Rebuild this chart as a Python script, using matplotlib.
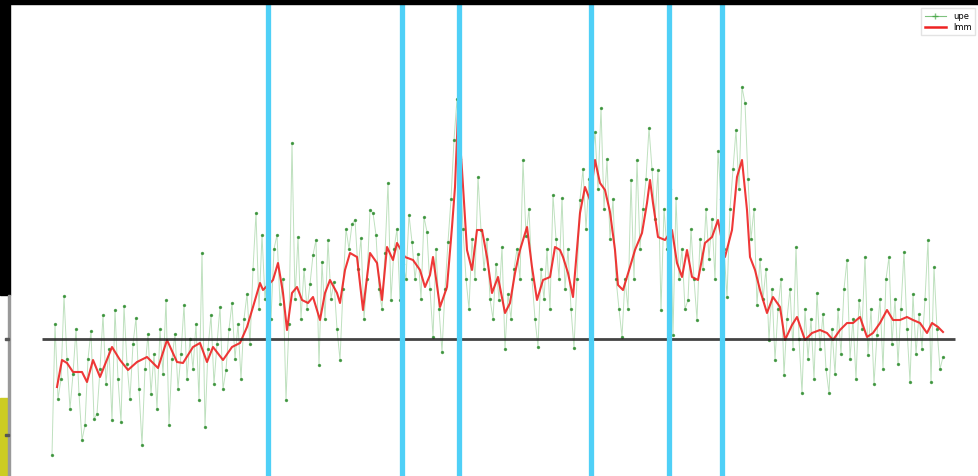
import numpy as np
import matplotlib
matplotlib.use("Agg")
import matplotlib.pyplot as plt
from matplotlib.patches import Rectangle

# raw series (sample step 3), values relative to the baseline
raw_step = 3
raw_vals = [
    -116, 15, -60, -40, 43, -20, -70, -35, 10, -55,
    -101, -86, -20, 8, -80, -75, -30, 24, -45, -10,
    -81, 29, -40, -83, 33, -25, -60, -5, 21, -50,
    -106, -30, 5, -55, -15, -70, 10, -35, 39, -86,
    -20, 5, -50, -15, 34, -40, 0, -30, 15, -61,
    86, -88, -10, 24, -45, -5, 32, -50, -31, 10,
    36, -20, 15, -40, 20, 45, -5, 70, 126, 30,
    104, 40, 75, 20, 90, 104, 35, 60, -61, 15,
    196, 40, 102, 20, 70, 30, 55, 84, 99, -26,
    77, 20, 99, 40, 57, 10, -21, 50, 110, 90,
    115, 119, 70, 101, 20, 60, 129, 126, 104, 50,
    30, 86, 156, 39, 90, 110, 39, 75, 60, 124,
    97, 60, 85, 40, 122, 107, 50, 2, 90, 30,
    -13, 50, 97, 140, 199, 240, 180, 110, 60, 30,
    100, 60, 162, 109, 70, 100, 40, 20, 75, 39,
    92, -10, 45, 20, 70, 90, 60, 179, 103, 130,
    60, 20, -8, 70, 40, 90, 30, 144, 100, 60,
    141, 50, 90, 30, -9, 60, 139, 170, 110, 160,
    179, 207, 150, 231, 130, 180, 100, 140, 60, 30,
    2, 60, 30, 159, 60, 179, 90, 130, 160, 211,
    170, 120, 169, 29, 130, 90, 150, 4, 141, 60,
    90, 30, 39, 110, 60, 19, 100, 70, 130, 80,
    120, 60, 188, 140, 90, 42, 130, 170, 209, 150,
    252, 236, 160, 100, 130, 34, 80, 40, 70, -1,
    50, -21, 30, 60, -36, 20, 50, -10, 92, 0,
    -54, 30, -20, 20, -40, 46, -10, 25, -30, -54,
    10, -35, 30, -15, 50, 79, -20, 20, -40, 39,
    10, 82, -16, 30, -45, 4, 40, -30, 60, 82,
    -5, 40, -25, 30, 87, 10, -43, 45, -15, 25,
    -10, 40, 99, -43, 72, 10, -30, -18,
]

# smoothed series
smooth_t = [
    5, 10, 15, 21, 30, 35, 41, 48, 60, 68, 76, 85, 95, 106, 115, 125, 131, 141,
    148, 155, 161, 171, 180, 188, 195, 201, 208, 211, 221, 226, 231, 235, 240,
    245, 250, 256, 261, 268, 273, 278, 285, 288, 293, 298, 305, 311, 318, 325,
    330, 335, 341, 345, 353, 361, 368, 373, 378, 381, 388, 395, 400, 403, 406,
    410, 415, 420, 425, 430, 435, 440, 446, 453, 458, 463, 468, 475, 480, 485,
    491, 498, 503, 508, 511, 516, 521, 528, 533, 538, 543, 548, 553, 558, 563,
    566, 571, 578, 583, 590, 595, 598, 601, 606, 613, 620, 625, 630, 635, 640,
    646, 653, 660, 666, 673, 680, 685, 690, 695, 698, 703, 708, 715, 721, 728,
    733, 740, 745, 753, 760, 768, 775, 781, 788, 795, 801, 808, 815, 821, 828,
    835, 841, 848, 855, 861, 868, 875, 880, 886, 891,
]
smooth_vals = [
    -48, -21, -24, -33, -33, -43, -21, -38, -8, -21, -31, -23, -18, -29, -1, -23, -24, -8,
    -4, -23, -8, -21, -8, -4, 12, 32, 56, 49, 59, 76, 46, 9, 46,
    52, 39, 36, 42, 19, 46, 59, 46, 36, 69, 86, 82, 29, 86, 76,
    39, 92, 79, 96, 82, 79, 69, 52, 64, 82, 32, 52, 112, 152, 226,
    169, 89, 69, 109, 109, 82, 46, 62, 26, 36, 66, 89, 112, 72, 39,
    59, 62, 92, 89, 82, 66, 42, 126, 152, 139, 179, 156, 149, 127, 89,
    54, 49, 72, 89, 106, 136, 159, 136, 102, 99, 109, 76, 62, 89, 62,
    59, 96, 102, 119, 82, 109, 162, 179, 129, 82, 69, 49, 26, 42, 32,
    -1, 14, 22, -1, 6, 9, 6, -1, 9, 16, 16, 22, 2, 6, 16,
    29, 19, 19, 22, 19, 16, 6, 16, 12, 7,
]

# marker positions along the time axis
event_t = [216, 350, 407, 539, 617, 670]

# legend labels (only the visible part of the cropped screenshot)
labels = ["upe", "lmm"]

raw_t = np.arange(len(raw_vals)) * raw_step

W, H = 979, 476
fig = plt.figure(figsize=(W / 100, H / 100), dpi=100)
fig.patch.set_facecolor("white")

ax = fig.add_axes([10 / W, 0, 1 - 10 / W, 1 - 4 / H])
ax.set_xlim(-42, 927)
ax.set_ylim(-137, 335)
ax.axis("off")

ax.plot(raw_t, raw_vals, color="#2a9a2a", lw=0.7, alpha=0.3, zorder=2)
ax.plot(raw_t, raw_vals, ls="none", marker=".", ms=2.8, color="#2a8a2a",
        alpha=0.75, zorder=2)
ax.plot(smooth_t, smooth_vals, color="#ee2222", lw=1.5, alpha=0.9, zorder=3)
ax.hlines(0, -10, 903, color="#222222", lw=2, alpha=0.85, zorder=4)
for t in event_t:
    ax.axvline(t, color="#4fd0f7", lw=3.8, zorder=5)

# legend in the top right corner
h1, = ax.plot([], [], color="#2a9a2a", marker="+", ms=5, lw=0.8, alpha=0.6)
h2, = ax.plot([], [], color="#ee2222", lw=1.8)
fig.legend(handles=[h1, h2], labels=labels, loc="upper right",
           bbox_to_anchor=(1.0, 1 - 4 / H), fontsize=6, frameon=True,
           edgecolor="#dddddd", handlelength=2.6, borderpad=0.4,
           labelspacing=0.3, fancybox=False)

# screenshot frame bits
fig.patches.append(Rectangle((0, 1 - 4 / H), 1, 4 / H, transform=fig.transFigure,
                             color="black", zorder=10))
fig.patches.append(Rectangle((0, 1 - 295 / H), 10 / W, 295 / H,
                             transform=fig.transFigure, color="black", zorder=10))
fig.patches.append(Rectangle((0, 0), 8 / W, 78 / H, transform=fig.transFigure,
                             color="#cccc22", zorder=10))
fig.patches.append(Rectangle((8 / W, 0), 2 / W, 1 - 295 / H,
                             transform=fig.transFigure, color="#999999", zorder=10))
for py in (339, 435):
    fig.patches.append(Rectangle((5 / W, 1 - (py + 1) / H), 4 / W, 2 / H,
                                 transform=fig.transFigure, color="#555555", zorder=11))

fig.savefig("out.png", dpi=100)
